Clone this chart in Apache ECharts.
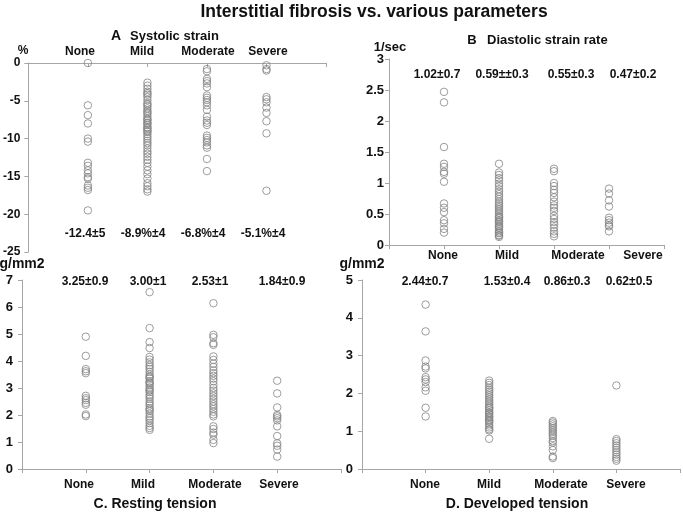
<!DOCTYPE html>
<html>
<head>
<meta charset="utf-8">
<script src="https://cdn.jsdelivr.net/npm/echarts@6/dist/echarts.min.js"></script>
<style>html,body{margin:0;padding:0;background:#fff}#c{width:683px;height:512px}</style>
</head>
<body>
<div id="c"></div>
<script>
// ---------- data ----------
const categories = ['None', 'Mild', 'Moderate', 'Severe'];

// A. Systolic strain (%)
const systolicNone = [0, -5.6, -6.9, -8.0, -10.0, -10.4, -13.2, -13.6, -14.2, -14.6, -15.1, -15.3, -16.2, -16.5, -16.8, -19.5];
const systolicMild = [-2.6, -3.0, -3.4, -3.8, -4.0, -4.2, -4.5, -4.9, -5.3, -5.5, -5.7, -6.0, -6.3, -6.5, -6.7, -7.0, -7.3, -7.5, -7.6, -7.9, -8.0, -8.2, -8.5, -8.6, -8.8, -9.0, -9.1, -9.4, -9.7, -10.0, -10.3, -10.6, -10.9, -11.3, -11.7, -12.0, -12.4, -12.8, -13.2, -13.7, -14.2, -14.7, -15.3, -15.9, -16.3, -16.7, -17.0];
const systolicModerate = [-0.8, -1.1, -2.1, -2.4, -2.7, -3.2, -4.3, -4.6, -4.9, -5.2, -5.6, -6.2, -7.1, -7.6, -7.9, -8.2, -9.6, -9.9, -10.2, -10.5, -10.9, -11.2, -12.7, -14.3];
const systolicSevere = [-0.3, -0.8, -1.0, -4.5, -4.8, -5.2, -5.9, -6.6, -7.7, -9.3, -16.9];
const systolicStats = ['-12.4\u00b15', '-8.9%\u00b14', '-6.8%\u00b14', '-5.1%\u00b14'];

// B. Diastolic strain rate (1/sec)
const diastolicNone = [2.47, 2.30, 1.58, 1.31, 1.26, 1.18, 1.15, 1.02, 0.67, 0.60, 0.53, 0.40, 0.35, 0.26, 0.20];
const diastolicMild = [1.31, 1.17, 1.13, 1.08, 1.04, 0.99, 0.95, 0.90, 0.86, 0.82, 0.78, 0.74, 0.70, 0.67, 0.64, 0.61, 0.58, 0.55, 0.52, 0.49, 0.46, 0.45, 0.43, 0.40, 0.38, 0.37, 0.34, 0.31, 0.30, 0.28, 0.25, 0.22, 0.20, 0.19, 0.16, 0.15, 0.13];
const diastolicModerate = [1.23, 1.19, 1.0, 0.95, 0.89, 0.84, 0.77, 0.70, 0.64, 0.60, 0.55, 0.47, 0.42, 0.37, 0.33, 0.28, 0.22, 0.18, 0.14];
const diastolicSevere = [0.91, 0.83, 0.72, 0.62, 0.44, 0.40, 0.36, 0.32, 0.30, 0.22];
const diastolicStats = ['1.02\u00b10.7', '0.59\u00b1\u00b10.3', '0.55\u00b10.3', '0.47\u00b10.2'];

// C. Resting tension (g/mm2)
const restingNone = [4.90, 4.19, 3.70, 3.62, 3.55, 2.71, 2.62, 2.55, 2.45, 2.38, 2.02, 1.96];
const restingMild = [6.55, 5.22, 4.70, 4.48, 4.15, 4.05, 3.95, 3.85, 3.78, 3.70, 3.60, 3.50, 3.42, 3.40, 3.35, 3.25, 3.20, 3.18, 3.10, 3.02, 2.95, 2.90, 2.85, 2.75, 2.68, 2.60, 2.50, 2.42, 2.35, 2.25, 2.20, 2.15, 2.05, 1.95, 1.88, 1.80, 1.70, 1.60, 1.52, 1.45];
const restingModerate = [6.14, 4.97, 4.88, 4.66, 4.60, 4.17, 4.04, 3.90, 3.78, 3.65, 3.55, 3.45, 3.35, 3.25, 3.12, 3.00, 2.90, 2.80, 2.70, 2.60, 2.50, 2.40, 2.32, 2.22, 2.12, 2.02, 1.95, 1.58, 1.48, 1.35, 1.27, 1.08, 0.96];
const restingSevere = [3.27, 2.80, 2.28, 2.00, 1.95, 1.88, 1.80, 1.58, 1.22, 0.95, 0.86, 0.72, 0.46];
const restingStats = ['3.25\u00b10.9', '3.00\u00b11', '2.53\u00b11', '1.84\u00b10.9'];

// D. Developed tension (g/mm2)
const developedNone = [4.35, 3.64, 2.87, 2.71, 2.66, 2.43, 2.37, 2.30, 2.16, 2.07, 1.62, 1.39];
const developedMild = [2.34, 2.28, 2.22, 2.15, 2.10, 2.05, 2.00, 1.95, 1.90, 1.85, 1.80, 1.75, 1.70, 1.65, 1.62, 1.60, 1.55, 1.50, 1.48, 1.45, 1.40, 1.38, 1.35, 1.30, 1.28, 1.25, 1.20, 1.15, 1.10, 1.05, 1.02, 0.80];
const developedModerate = [1.27, 1.23, 1.18, 1.13, 1.08, 1.03, 0.98, 0.93, 0.88, 0.82, 0.74, 0.70, 0.60, 0.50, 0.33, 0.29];
const developedSevere = [2.21, 0.79, 0.74, 0.68, 0.62, 0.56, 0.50, 0.44, 0.38, 0.32, 0.27, 0.22];
const developedStats = ['2.44\u00b10.7', '1.53\u00b10.4', '0.86\u00b10.3', '0.62\u00b10.5'];

// axis ranges
const yRanges = [
  { min: -25, max: 0, interval: 5 },
  { min: 0, max: 3, interval: 0.5 },
  { min: 0, max: 7, interval: 1 },
  { min: 0, max: 5, interval: 1 }
];

const mainTitle = 'Interstitial fibrosis vs. various parameters';

// ---------- layout ----------
const grids = [
  { left: 27, top: 63, width: 299, height: 189 },
  { left: 389, top: 59, width: 275, height: 186 },
  { left: 22, top: 280, width: 319, height: 189 },
  { left: 362, top: 280, width: 318, height: 189 }
];
const labelMargins = [8, 5, 9, 9];
const labelSizes = [12, 13, 13, 13];

const groupsPerPanel = [
  [systolicNone, systolicMild, systolicModerate, systolicSevere],
  [diastolicNone, diastolicMild, diastolicModerate, diastolicSevere],
  [restingNone, restingMild, restingModerate, restingSevere],
  [developedNone, developedMild, developedModerate, developedSevere]
];

const font = '"Liberation Sans", Arial, sans-serif';
const axisGray = '#a6a6a6';

const xAxes = grids.map((g, i) => ({
  type: 'value', gridIndex: i, min: 0, max: 5, interval: 1,
  position: i === 0 ? 'top' : 'bottom',
  axisLine: { show: true, onZero: false, lineStyle: { color: axisGray, width: 1 } },
  axisTick: { show: true, length: 4, inside: i === 0, lineStyle: { color: axisGray } },
  axisLabel: { show: false },
  splitLine: { show: false }
}));

const yAxes = grids.map((g, i) => ({
  type: 'value', gridIndex: i,
  min: yRanges[i].min, max: yRanges[i].max, interval: yRanges[i].interval,
  axisLine: { show: true, onZero: false, lineStyle: { color: axisGray, width: 1 } },
  axisTick: { show: true, length: 4, lineStyle: { color: axisGray } },
  axisLabel: { show: true, margin: labelMargins[i], color: '#111', fontWeight: 'bold', fontSize: labelSizes[i], fontFamily: font },
  splitLine: { show: false }
}));

const series = [];
groupsPerPanel.forEach((groups, p) => {
  groups.forEach((vals, c) => {
    series.push({
      type: 'scatter', xAxisIndex: p, yAxisIndex: p,
      symbol: 'circle', symbolSize: 7.5,
      itemStyle: { color: 'rgba(255,255,255,0)', borderColor: '#858585', borderWidth: 1 },
      data: vals.map(v => [c + 1, v]),
      silent: true
    });
  });
});

// text annotations (positions in px)
function txt(text, x, y, size, weight) {
  return { type: 'text', x: x, y: y, silent: true,
    style: { text: text, fill: '#111', font: (weight || 'bold') + ' ' + size + 'px ' + font, textAlign: 'center', textVerticalAlign: 'middle' } };
}
const statsX = [[85, 143, 203, 263], [437, 502, 571, 633], [85, 148, 210, 282], [425, 507, 567, 629]];
const statsY = [234, 75, 282, 282];
const catX = [[80, 142, 208, 268], [443, 507, 578, 643], [79, 143, 215, 279], [425, 489, 561, 626]];
const catY = [52, 256, 485, 485];
const statsPerPanel = [systolicStats, diastolicStats, restingStats, developedStats];

const graphics = [
  txt(mainTitle, 374, 12, 17.5),
  txt('A', 116, 36, 14),
  { type: 'text', x: 130, y: 36, silent: true, style: { text: 'Systolic strain', fill: '#111', font: 'bold 13px ' + font, textAlign: 'left', textVerticalAlign: 'middle' } },
  txt('B', 472, 40, 13),
  { type: 'text', x: 487, y: 40, silent: true, style: { text: 'Diastolic strain rate', fill: '#111', font: 'bold 13px ' + font, textAlign: 'left', textVerticalAlign: 'middle' } },
  txt('C. Resting tension', 155, 504, 14),
  txt('D. Developed tension', 517, 504, 14),
  txt('%', 23, 51, 12),
  txt('1/sec', 390, 47, 13),
  txt('g/mm2', 22, 264, 14),
  txt('g/mm2', 362, 264, 14)
];
for (let p = 0; p < 4; p++) {
  for (let c = 0; c < 4; c++) {
    graphics.push(txt(statsPerPanel[p][c], statsX[p][c], statsY[p], 12));
    graphics.push(txt(categories[c], catX[p][c], catY[p], 12));
  }
}

const chart = echarts.init(document.getElementById('c'), null, { renderer: 'canvas' });
chart.setOption({
  backgroundColor: '#ffffff',
  animation: false,
  grid: grids,
  xAxis: xAxes,
  yAxis: yAxes,
  series: series,
  graphic: graphics
});
</script>
</body>
</html>
